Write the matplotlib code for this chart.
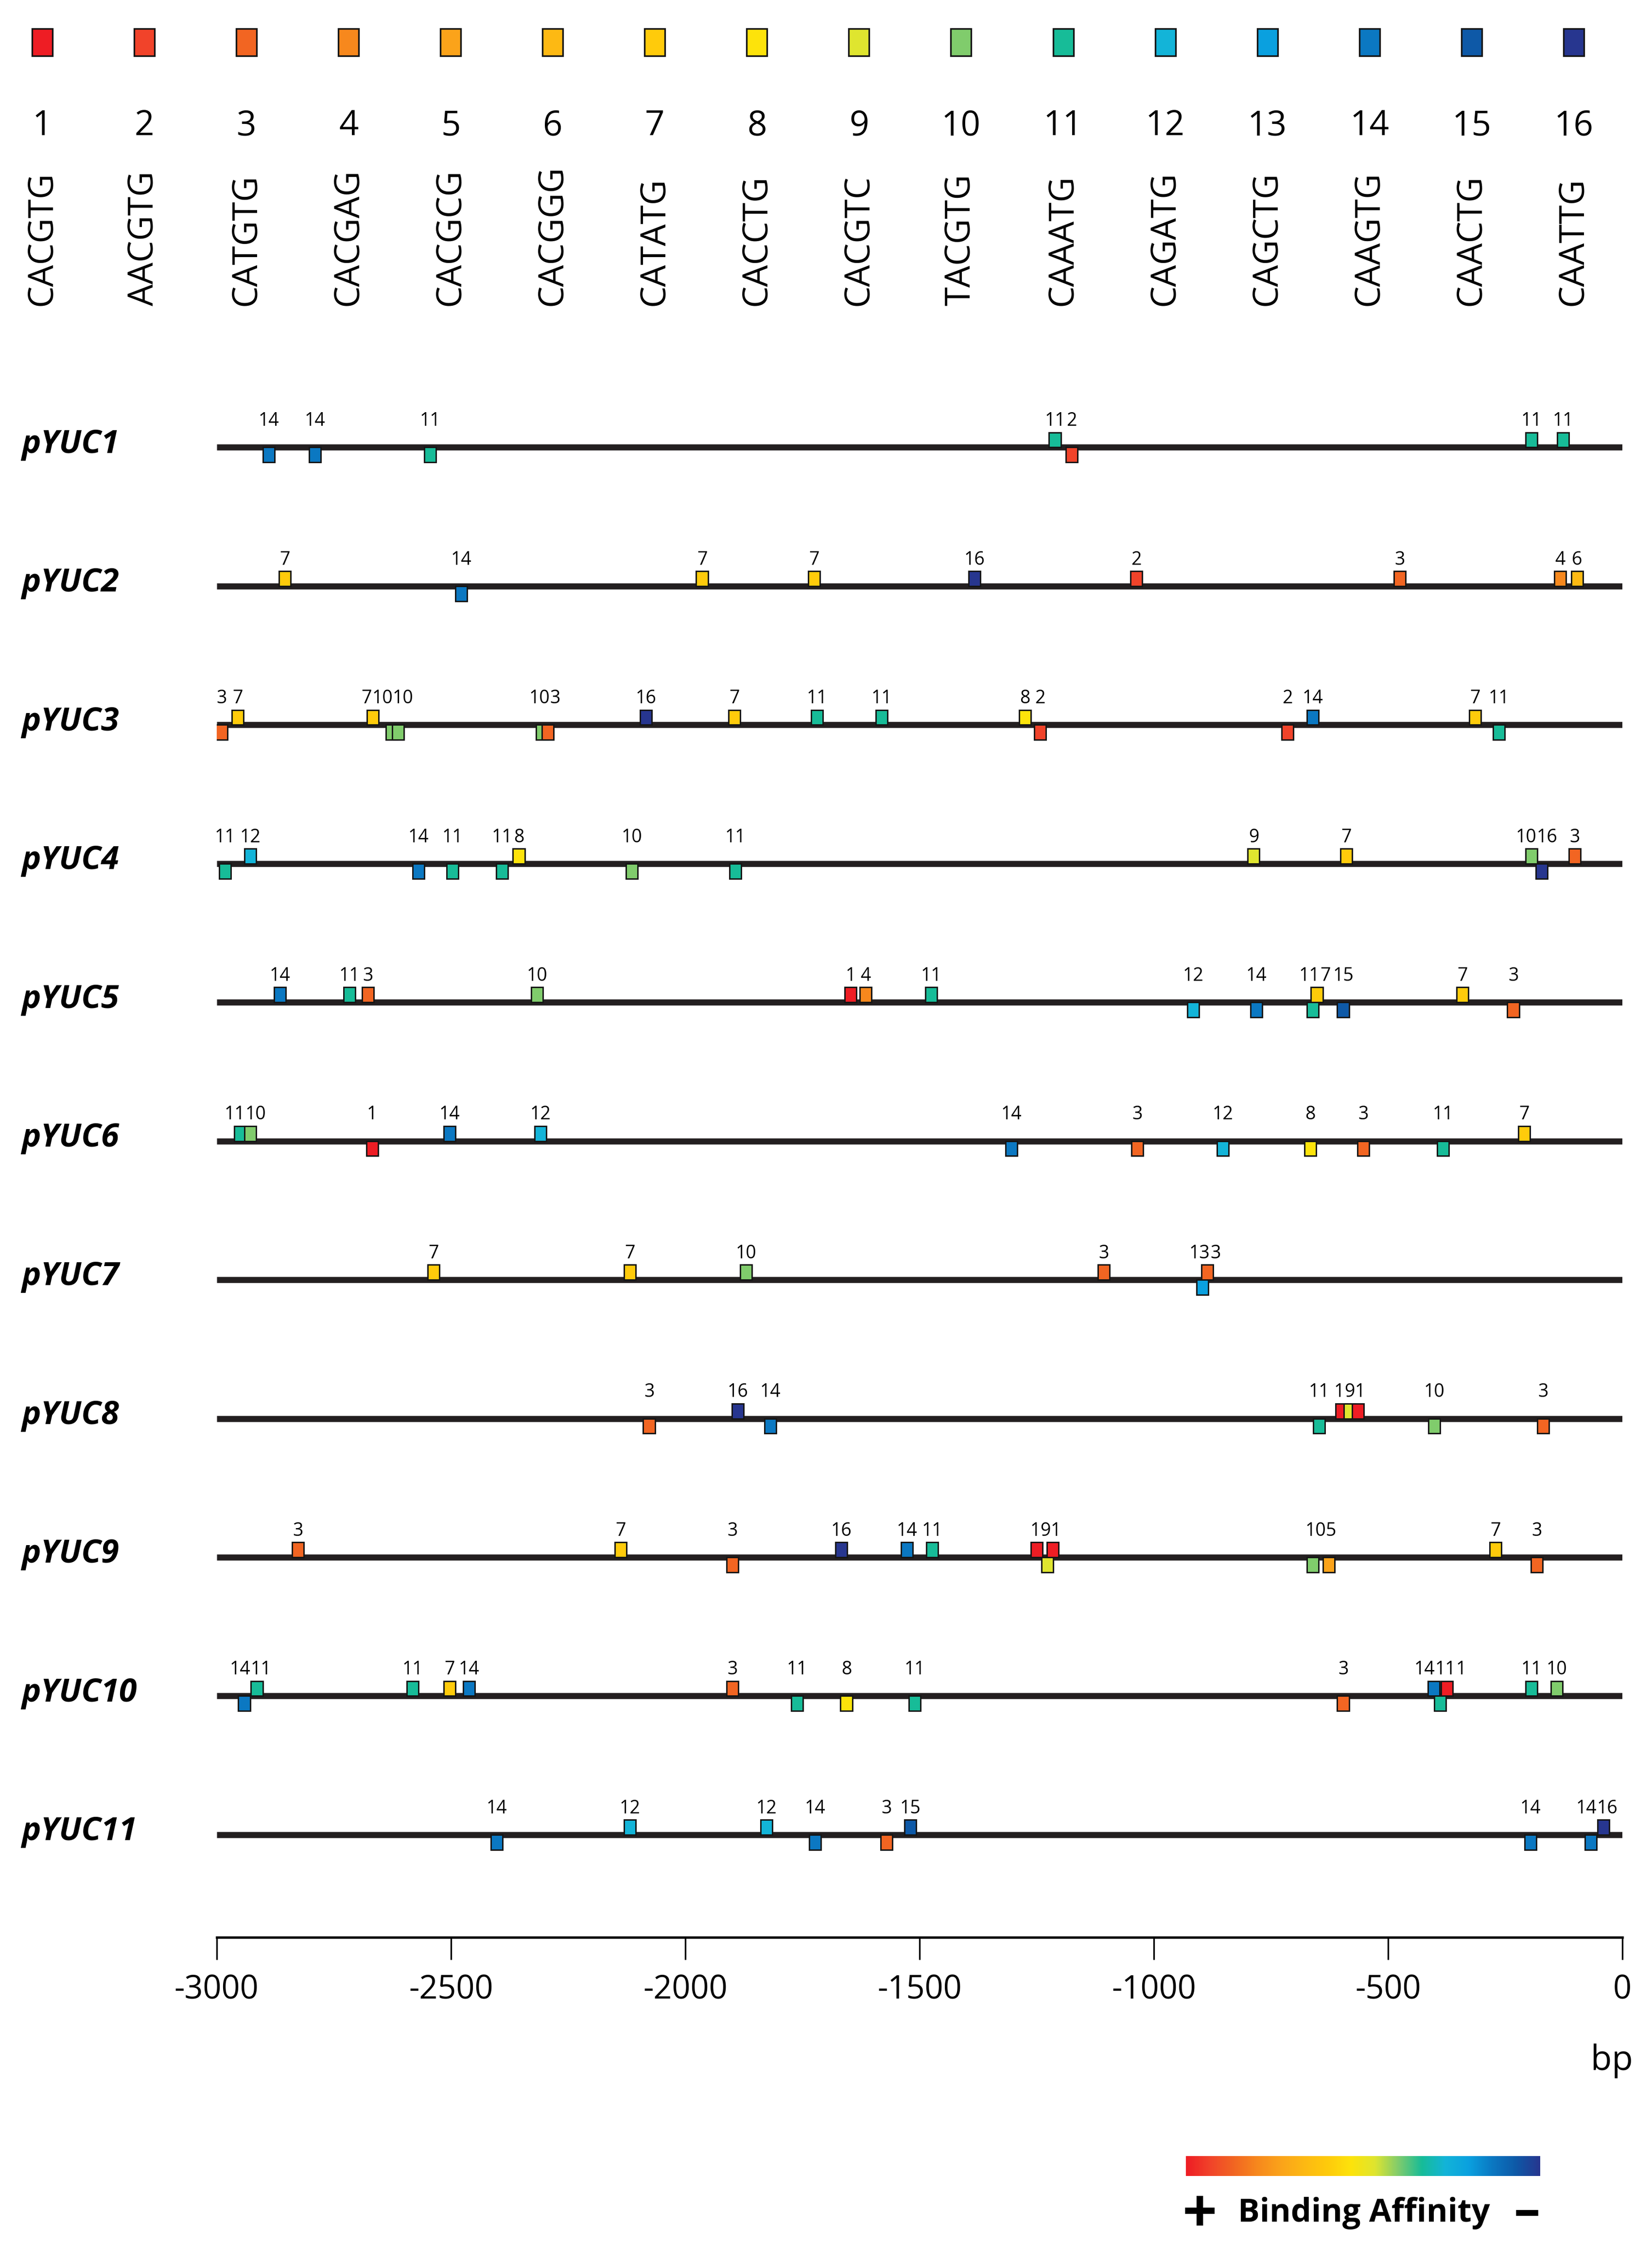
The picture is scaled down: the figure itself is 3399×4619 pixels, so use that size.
import numpy as np
import matplotlib
matplotlib.use("Agg")
import matplotlib.pyplot as plt
from matplotlib.colors import LinearSegmentedColormap
from matplotlib.transforms import blended_transform_factory

plt.rcParams['font.family'] = ['Open Sans', 'DejaVu Sans']

motif_ids = list(range(1, 17))
motif_seqs = ["CACGTG", "AACGTG", "CATGTG", "CACGAG", "CACGCG", "CACGGG", "CATATG", "CACCTG",
              "CACGTC", "TACGTG", "CAAATG", "CAGATG", "CAGCTG", "CAAGTG", "CAACTG", "CAATTG"]
motif_colors = ["#ee1d24", "#f1432a", "#f26522", "#f7881d", "#fba31a", "#fdb913", "#ffcb0b", "#fde30b",
                "#dfe52f", "#80cc6c", "#17bc98", "#13b4d8", "#0aa0df", "#0b78c2", "#0e59a7", "#27368f"]

promoters = ["pYUC1", "pYUC2", "pYUC3", "pYUC4", "pYUC5", "pYUC6",
             "pYUC7", "pYUC8", "pYUC9", "pYUC10", "pYUC11"]

# (position bp, motif number, side: 1 = above line, -1 = below line)
yuc1 = [(-2889, 14, -1), (-2790, 14, -1), (-2544, 11, -1), (-1211, 11, 1), (-1175, 2, -1),
        (-194, 11, 1), (-127, 11, 1)]
yuc2 = [(-2854, 7, 1), (-2478, 14, -1), (-1964, 7, 1), (-1725, 7, 1), (-1383, 16, 1),
        (-1037, 2, 1), (-475, 3, 1), (-133, 4, 1), (-97, 6, 1)]
yuc3 = [(-2989, 3, -1), (-2955, 7, 1), (-2667, 7, 1), (-2626, 10, -1), (-2613, 10, -1),
        (-2306, 10, -1), (-2293, 3, -1), (-2084, 16, 1), (-1895, 7, 1), (-1719, 11, 1),
        (-1581, 11, 1), (-1275, 8, 1), (-1243, 2, -1), (-715, 2, -1), (-661, 14, 1),
        (-314, 7, 1), (-264, 11, -1)]
yuc4 = [(-2982, 11, -1), (-2928, 12, 1), (-2569, 14, -1), (-2497, 11, -1), (-2391, 11, -1),
        (-2355, 8, 1), (-2114, 10, -1), (-1893, 11, -1), (-787, 9, 1), (-589, 7, 1),
        (-194, 10, 1), (-172, 16, -1), (-102, 3, 1)]
yuc5 = [(-2865, 14, 1), (-2716, 11, 1), (-2677, 3, 1), (-2316, 10, 1), (-1647, 1, 1),
        (-1615, 4, 1), (-1475, 11, 1), (-916, 12, -1), (-781, 14, -1), (-661, 11, -1),
        (-652, 7, 1), (-596, 15, -1), (-341, 7, 1), (-233, 3, -1)]
yuc6 = [(-2950, 11, 1), (-2928, 10, 1), (-2668, 1, -1), (-2503, 14, 1), (-2309, 12, 1),
        (-1304, 14, -1), (-1035, 3, -1), (-853, 12, -1), (-666, 8, -1), (-553, 3, -1),
        (-383, 11, -1), (-210, 7, 1)]
yuc7 = [(-2537, 7, 1), (-2118, 7, 1), (-1870, 10, 1), (-1107, 3, 1), (-896, 13, -1),
        (-886, 3, 1)]
yuc8 = [(-2077, 3, -1), (-1888, 16, 1), (-1818, 14, -1), (-647, 11, -1), (-600, 1, 1),
        (-582, 9, 1), (-564, 1, 1), (-402, 10, -1), (-169, 3, -1)]
yuc9 = [(-2826, 3, 1), (-2138, 7, 1), (-1899, 3, -1), (-1667, 16, 1), (-1527, 14, 1),
        (-1473, 11, 1), (-1250, 1, 1), (-1227, 9, -1), (-1216, 1, 1), (-661, 10, -1),
        (-627, 5, -1), (-271, 7, 1), (-183, 3, -1)]
yuc10 = [(-2941, 14, -1), (-2914, 11, 1), (-2582, 11, 1), (-2503, 7, 1), (-2461, 14, 1),
         (-1899, 3, 1), (-1761, 11, -1), (-1656, 8, -1), (-1510, 11, -1), (-596, 3, -1),
         (-403, 14, 1), (-389, 11, -1), (-375, 1, 1), (-194, 11, 1), (-140, 10, 1)]
yuc11 = [(-2402, 14, -1), (-2118, 12, 1), (-1827, 12, 1), (-1723, 14, -1), (-1570, 3, -1),
         (-1520, 15, 1), (-196, 14, -1), (-68, 14, -1), (-41, 16, 1)]
sites = [yuc1, yuc2, yuc3, yuc4, yuc5, yuc6, yuc7, yuc8, yuc9, yuc10, yuc11]

xticks = [-3000, -2500, -2000, -1500, -1000, -500, 0]

DPI = 300
LABEL_FS = 9
AX_POS = [0.1311, 0.1371, 0.8510, 0.6901]


def place_labels(row, char_w):
    # labels that would overlap are packed side by side, centred on their marks
    items = sorted((pos, str(m)) for pos, m, side in row)
    groups = [[it] for it in items]

    def span(g):
        total = sum(len(t) for _, t in g) * char_w
        c = np.mean([p for p, _ in g])
        return c - total / 2, c + total / 2

    changed = True
    while changed:
        changed = False
        for k in range(len(groups) - 1):
            if span(groups[k])[1] > span(groups[k + 1])[0] - 2:
                groups[k] = groups[k] + groups.pop(k + 1)
                changed = True
                break
    out = []
    for g in groups:
        left = span(g)[0]
        for _, t in g:
            w = len(t) * char_w
            out.append((left + w / 2, t))
            left += w
    return out


fig = plt.figure(figsize=(3399 / DPI, 4619 / DPI), dpi=DPI)

# motif legend across the top
lax = fig.add_axes([0, 1 - 230 / 1563, 1, 230 / 1563])
lax.set_xlim(0.585, 16.768)
lax.set_ylim(230, 0)
lax.axis('off')
lax.bar(motif_ids, 19, width=0.2, bottom=20, color=motif_colors,
        edgecolor='#151515', linewidth=0.8)
for m, s in zip(motif_ids, motif_seqs):
    lax.text(m, 94.2, str(m), ha='center', va='baseline', fontsize=17)
    lax.text(m, 212.7, s, rotation=90, ha='center', va='bottom', fontsize=17)

# promoter tracks
ax = fig.add_axes(AX_POS)
ax.set_xlim(-3000, 0)
ax.set_ylim(-10.739, 0.4286)
bp_per_px = 3000 / (AX_POS[2] * 3399)
digit_w = 0.572 * LABEL_FS / 72 * DPI * bp_per_px
lab_tr = blended_transform_factory(fig.transFigure, ax.transData)
for i, (name, row) in enumerate(zip(promoters, sites)):
    y = -i
    ax.hlines(y, -3000, 0, color='#231f20', lw=3.0, zorder=2)
    for pos, m, side in row:
        ax.bar(pos, 0.108 * side, width=25, bottom=y, color=motif_colors[m - 1],
               edgecolor='#151515', linewidth=0.7, zorder=3)
    for lx, t in place_labels(row, digit_w):
        ax.text(lx, y + 0.155, t, ha='center', va='baseline', fontsize=LABEL_FS)
    ax.text(0.013, y - 0.04, name, transform=lab_tr, ha='left', va='baseline',
            fontsize=16, fontweight='bold', style='italic')

for s in ['top', 'left', 'right']:
    ax.spines[s].set_visible(False)
ax.spines['bottom'].set_linewidth(1.2)
ax.set_yticks([])
ax.set_xticks(xticks)
ax.set_xticklabels([str(v) for v in xticks])
ax.tick_params(axis='x', direction='out', length=11, width=0.8, pad=7, labelsize=16)

fig.text(1122 / 1150, 1 - 1435 / 1563, 'bp', ha='center', va='center', fontsize=17)

# binding affinity scale
cmap = LinearSegmentedColormap.from_list('affinity', motif_colors)
cax = fig.add_axes([825.6 / 1150, 1 - 1515 / 1563, 246.6 / 1150, 14 / 1563])
cax.imshow(np.linspace(0, 1, 256)[None, :], aspect='auto', cmap=cmap)
cax.axis('off')
fig.text(835 / 1150, 1 - 1543 / 1563, '+', ha='center', va='center', fontsize=30, fontweight='bold')
fig.text(949.5 / 1150, 1 - 1541 / 1563, 'Binding Affinity', ha='center', va='center',
         fontsize=16, fontweight='bold')
fig.text(1063 / 1150, 1 - 1541 / 1563, '\u2013', ha='center', va='center', fontsize=26, fontweight='bold')

fig.savefig('out.png', dpi=DPI)
